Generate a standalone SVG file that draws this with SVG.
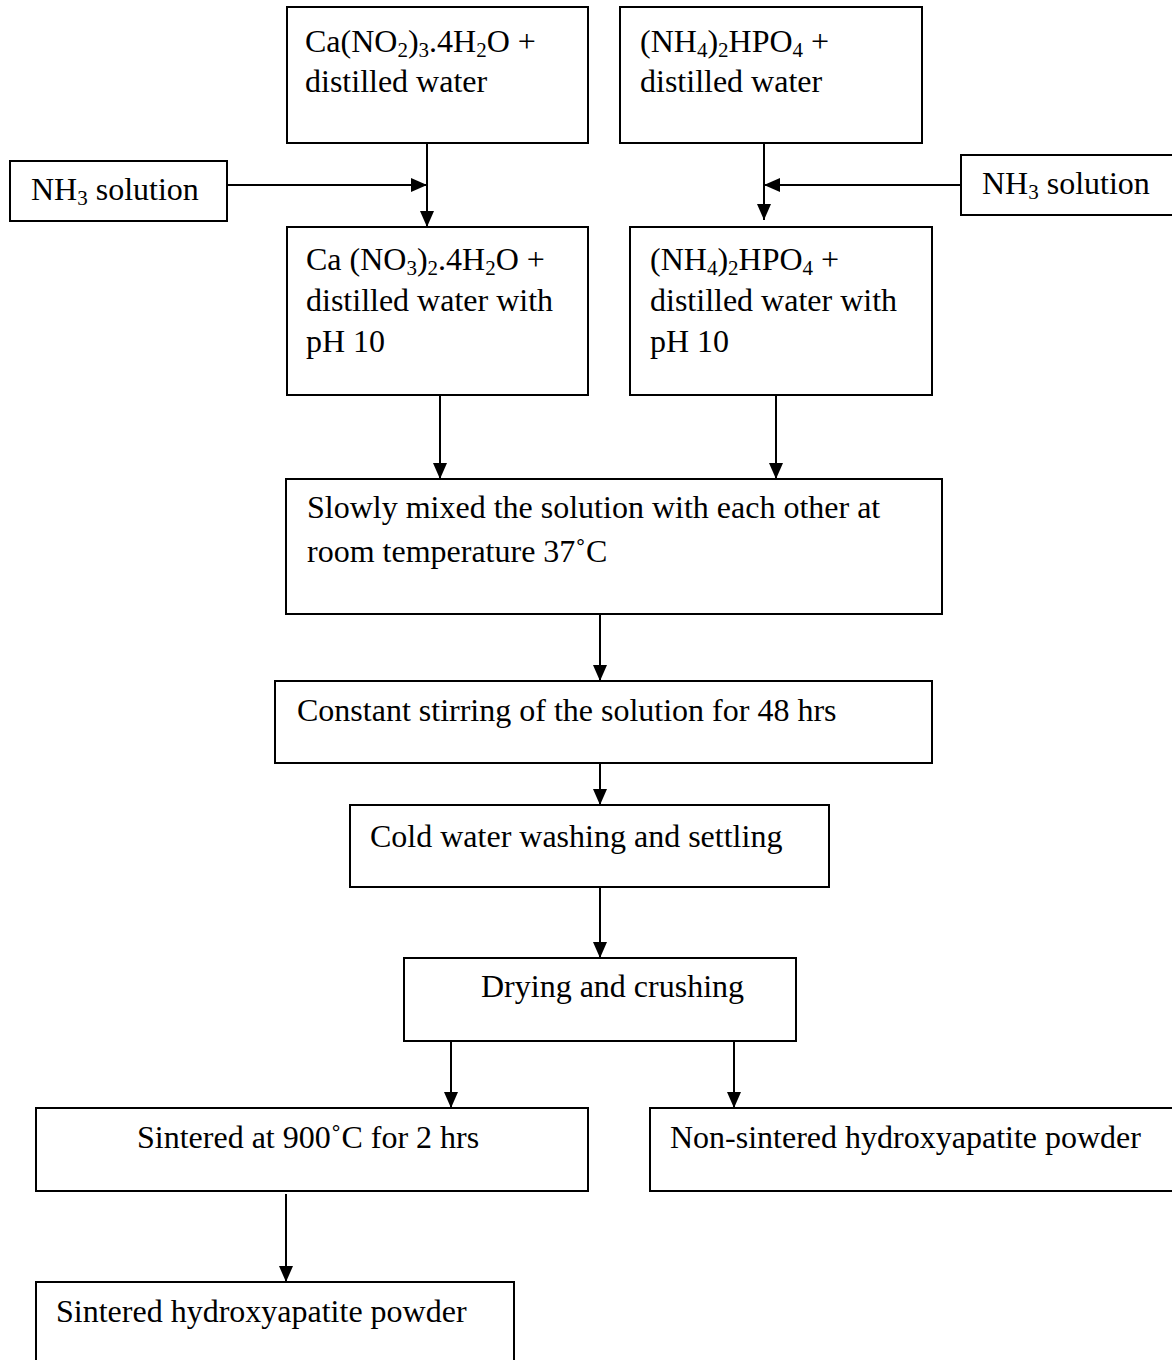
<svg xmlns="http://www.w3.org/2000/svg" width="1172" height="1360" viewBox="0 0 1172 1360">
<defs>
<style>
.box{fill:#fff;stroke:#000;stroke-width:2}
.t{font-family:"Liberation Serif","Times New Roman",serif;font-size:32px;fill:#000}
.s{font-size:21px}
.c{stroke:#000;stroke-width:2;fill:none}
</style>
<marker id="ah" markerUnits="userSpaceOnUse" markerWidth="16" markerHeight="14" refX="16" refY="7" orient="auto">
<path d="M0,0 L16,7 L0,14 Z" fill="#000"/>
</marker>
</defs>
<rect width="1172" height="1360" fill="#fff"/>

<g id="connectors">
<line class="c" x1="427" y1="143" x2="427" y2="227" marker-end="url(#ah)"/>
<line class="c" x1="227" y1="185" x2="427" y2="185" marker-end="url(#ah)"/>
<line class="c" x1="764" y1="136" x2="764" y2="220" marker-end="url(#ah)"/>
<line class="c" x1="961" y1="185" x2="764" y2="185" marker-end="url(#ah)"/>
<line class="c" x1="440" y1="395" x2="440" y2="479" marker-end="url(#ah)"/>
<line class="c" x1="776" y1="395" x2="776" y2="479" marker-end="url(#ah)"/>
<line class="c" x1="600" y1="614" x2="600" y2="681" marker-end="url(#ah)"/>
<line class="c" x1="600" y1="763" x2="600" y2="805" marker-end="url(#ah)"/>
<line class="c" x1="600" y1="887" x2="600" y2="958" marker-end="url(#ah)"/>
<line class="c" x1="451" y1="1041" x2="451" y2="1108" marker-end="url(#ah)"/>
<line class="c" x1="734" y1="1041" x2="734" y2="1108" marker-end="url(#ah)"/>
<line class="c" x1="286" y1="1194" x2="286" y2="1282" marker-end="url(#ah)"/>
</g>

<g id="ca-nitrate">
<rect class="box" x="287" y="7" width="301" height="136"/>
<text class="t" x="305" y="52">Ca(NO<tspan class="s" dy="5">2</tspan><tspan dy="-5">)</tspan><tspan class="s" dy="5">3</tspan><tspan dy="-5">.4H</tspan><tspan class="s" dy="5">2</tspan><tspan dy="-5">O +</tspan></text>
<text class="t" x="305" y="92">distilled water</text>
</g>

<g id="dap">
<rect class="box" x="620" y="7" width="302" height="136"/>
<text class="t" x="640" y="52">(NH<tspan class="s" dy="5">4</tspan><tspan dy="-5">)</tspan><tspan class="s" dy="5">2</tspan><tspan dy="-5">HPO</tspan><tspan class="s" dy="5">4</tspan><tspan dy="-5"> +</tspan></text>
<text class="t" x="640" y="92">distilled water</text>
</g>

<g id="nh3-left">
<rect class="box" x="10" y="161" width="217" height="60"/>
<text class="t" x="31" y="200">NH<tspan class="s" dy="5">3</tspan><tspan dy="-5"> solution</tspan></text>
</g>

<g id="nh3-right">
<rect class="box" x="961" y="155" width="220" height="60"/>
<text class="t" x="982" y="194">NH<tspan class="s" dy="5">3</tspan><tspan dy="-5"> solution</tspan></text>
</g>

<g id="ca-ph10">
<rect class="box" x="287" y="227" width="301" height="168"/>
<text class="t" x="306" y="270">Ca (NO<tspan class="s" dy="5">3</tspan><tspan dy="-5">)</tspan><tspan class="s" dy="5">2</tspan><tspan dy="-5">.4H</tspan><tspan class="s" dy="5">2</tspan><tspan dy="-5">O +</tspan></text>
<text class="t" x="306" y="311">distilled water with</text>
<text class="t" x="306" y="352">pH 10</text>
</g>

<g id="dap-ph10">
<rect class="box" x="630" y="227" width="302" height="168"/>
<text class="t" x="650" y="270">(NH<tspan class="s" dy="5">4</tspan><tspan dy="-5">)</tspan><tspan class="s" dy="5">2</tspan><tspan dy="-5">HPO</tspan><tspan class="s" dy="5">4</tspan><tspan dy="-5"> +</tspan></text>
<text class="t" x="650" y="311">distilled water with</text>
<text class="t" x="650" y="352">pH 10</text>
</g>

<g id="mix">
<rect class="box" x="286" y="479" width="656" height="135"/>
<text class="t" x="307" y="518">Slowly mixed the solution with each other at</text>
<text class="t" x="307" y="562">room temperature 37˚C</text>
</g>

<g id="stir">
<rect class="box" x="275" y="681" width="657" height="82"/>
<text class="t" x="297" y="721">Constant stirring of the solution for 48 hrs</text>
</g>

<g id="wash">
<rect class="box" x="350" y="805" width="479" height="82"/>
<text class="t" x="370" y="847">Cold water washing and settling</text>
</g>

<g id="dry">
<rect class="box" x="404" y="958" width="392" height="83"/>
<text class="t" x="481" y="997">Drying and crushing</text>
</g>

<g id="sinter">
<rect class="box" x="36" y="1108" width="552" height="83"/>
<text class="t" x="137" y="1148">Sintered at 900˚C for 2 hrs</text>
</g>

<g id="non-sintered">
<rect class="box" x="650" y="1108" width="530" height="83"/>
<text class="t" x="670" y="1148">Non-sintered hydroxyapatite powder</text>
</g>

<g id="sintered-ha">
<rect class="box" x="36" y="1282" width="478" height="90"/>
<text class="t" x="56" y="1322">Sintered hydroxyapatite powder</text>
</g>
</svg>
